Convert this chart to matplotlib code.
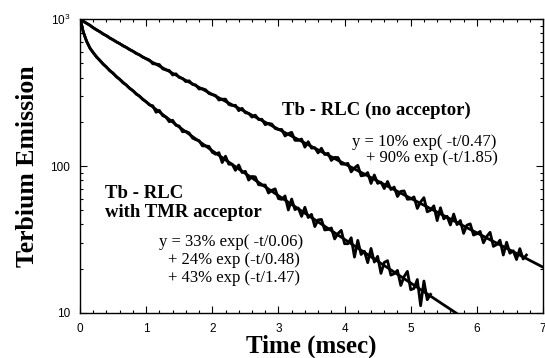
import numpy as np
import matplotlib
matplotlib.use("Agg")
import matplotlib.pyplot as plt
from matplotlib.ticker import FixedLocator, NullFormatter

free_time = np.round(np.arange(0, 6.751, 0.05), 2)
free_signal = [1000, 962, 935, 909, 870, 843, 820, 789, 771, 741, 723, 698, 681, 656, 641, 618, 604, 582, 571, 549, 538,
               526, 496, 494, 490, 458, 450, 447, 416, 424, 400, 394, 375, 380, 359, 356, 334, 336, 330, 311, 306,
               302, 281, 285, 285, 262, 258, 259, 238, 247, 230, 228, 215, 222, 207, 208, 191, 195, 193, 180, 177,
               177.3, 160.1, 166, 169.6, 149.6, 149.3, 152.7, 134.3, 146.4, 132.3, 133.1, 122.8, 132.1, 119.7, 122.2,
               109.1, 114.5, 114.2, 103.2, 102.8,
               104.3, 91.2, 97.2, 101.1, 85.7, 86.6, 90.2, 76.1, 86.9, 76.2, 77.7, 70.2, 78.5, 69.2, 71.9, 62.0, 67.2,
               67.7, 59.4, 59.7,
               61.6, 51.4, 57.0, 60.9, 48.8, 50.0, 53.6, 42.5, 52.0, 43.7, 45.5, 39.7, 47.1, 39.9, 42.6, 34.8, 39.6,
               40.4, 33.9, 34.6,
               35.9, 30.0, 33.2, 35.4, 28.4, 29.2, 31.3, 24.8, 30.3, 25.5, 26.5, 23.1, 27.4, 23.3, 24.8]

tmr_time = np.concatenate([[0, 0.02], np.round(np.arange(0.05, 5.301, 0.05), 2)])
tmr_signal = [1000, 930, 815, 706, 633, 591, 550, 524, 492, 472, 444, 429, 404, 389, 368, 356, 337, 326, 308, 299, 283, 274,
              260, 257, 232, 239, 220, 215, 200, 205, 189, 187, 171, 172, 168, 155, 151, 149, 137, 137, 136, 124,
              120.2, 123.3, 105.5, 116.6, 102.8, 102.9, 93.4, 101.7, 90.2, 92.1, 80.2, 84.9, 84.4, 74.6, 74.0, 74.3,
              65.5, 68.3, 69.9, 60.0,
              59.3, 62.6, 50.2, 59.6, 50.5, 51.8, 45.4, 52.4, 44.6, 46.9, 38.7, 43.0, 43.3, 36.7, 37.0, 37.9, 31.9,
              34.7, 36.5, 29.6,
              29.6, 32.5, 24.0, 31.2, 25.0, 26.3, 22.0, 27.5, 22.2, 24.3, 18.6, 22.1, 22.7, 18.1, 18.5, 19.5, 15.4,
              17.7, 19.2, 14.4,
              14.7, 16.9, 11.2, 16.5, 12.3, 13.4]

# fitted curves (smooth)
free_fit_time = [0, 0.25, 0.5, 1, 1.5, 2, 2.5, 3, 4, 5, 6, 7]
free_fit = [1000, 845, 721, 536, 404, 307, 234, 178, 103.6, 60.3, 35.1, 20.5]
tmr_fit_time = [0, 0.02, 0.05, 0.1, 0.15, 0.2, 0.3, 0.4, 0.5, 0.75, 1, 1.5, 2, 2.5, 3, 4, 5, 5.7]
tmr_fit = [1000, 930, 815, 705, 636, 589, 522, 470, 426, 339, 273, 184, 127, 88.9, 62.8, 31.7, 16.0, 9.9]

free_title = "Tb - RLC (no acceptor)"
free_eq = ["y = 10% exp( -t/0.47)", "+ 90% exp (-t/1.85)"]
tmr_title = ["Tb - RLC", "with TMR acceptor"]
tmr_eq = ["y = 33% exp( -t/0.06)", "+ 24% exp (-t/0.48)", "+ 43% exp (-t/1.47)"]

serif = "Liberation Serif"
sans = "Liberation Sans"

fig = plt.figure(figsize=(5.45, 3.58), dpi=100)
ax = fig.add_axes([0.1468, 0.1257, 0.8495, 0.8212])

ax.plot(free_fit_time, free_fit, color="black", lw=2.0)
ax.plot(tmr_fit_time, tmr_fit, color="black", lw=2.0)
ax.plot(free_time, free_signal, color="black", lw=2.0)
ax.plot(tmr_time, tmr_signal, color="black", lw=2.0)

ax.set_yscale("log")
ax.set_xlim(0, 7)
ax.set_ylim(10, 1000)

ax.set_xticks(range(8))
ax.xaxis.set_minor_locator(FixedLocator(np.arange(0, 7.01, 0.2)))
ax.set_yticks([10, 100, 1000])
ax.set_yticklabels(["10", "100", r"$\mathregular{10^3}$"])
ax.yaxis.set_minor_locator(FixedLocator([20, 30, 40, 50, 60, 70, 80, 90,
                                         200, 300, 400, 500, 600, 700, 800, 900]))
ax.yaxis.set_minor_formatter(NullFormatter())

ax.tick_params(which="both", direction="in", top=True, right=True, width=0.8)
ax.tick_params(which="major", length=5, labelsize=8.5, pad=7)
ax.tick_params(which="minor", length=2.5)
for lab in ax.get_xticklabels() + ax.get_yticklabels():
    lab.set_fontfamily(sans)
for sp in ax.spines.values():
    sp.set_linewidth(1.0)

ax.set_xlabel("Time (msec)", fontfamily=serif, fontweight="bold", fontsize=18, labelpad=0)
ax.set_ylabel("Terbium Emission", fontfamily=serif, fontweight="bold", fontsize=18.5, labelpad=8)

# annotations
ax.text(3.05, 240, free_title, fontfamily=serif, fontweight="bold", fontsize=13.5, va="center")
ax.text(4.11, 145, free_eq[0], fontfamily=serif, fontsize=12, va="center")
ax.text(4.32, 113, free_eq[1], fontfamily=serif, fontsize=12, va="center")

ax.text(0.38, 65.2, tmr_title[0], fontfamily=serif, fontweight="bold", fontsize=13.5, va="center")
ax.text(0.38, 48.3, tmr_title[1], fontfamily=serif, fontweight="bold", fontsize=13.5, va="center")
ax.text(1.19, 30.2, tmr_eq[0], fontfamily=serif, fontsize=12, va="center")
ax.text(1.33, 23.1, tmr_eq[1], fontfamily=serif, fontsize=12, va="center")
ax.text(1.33, 17.4, tmr_eq[2], fontfamily=serif, fontsize=12, va="center")

fig.savefig("out.png", dpi=100)
